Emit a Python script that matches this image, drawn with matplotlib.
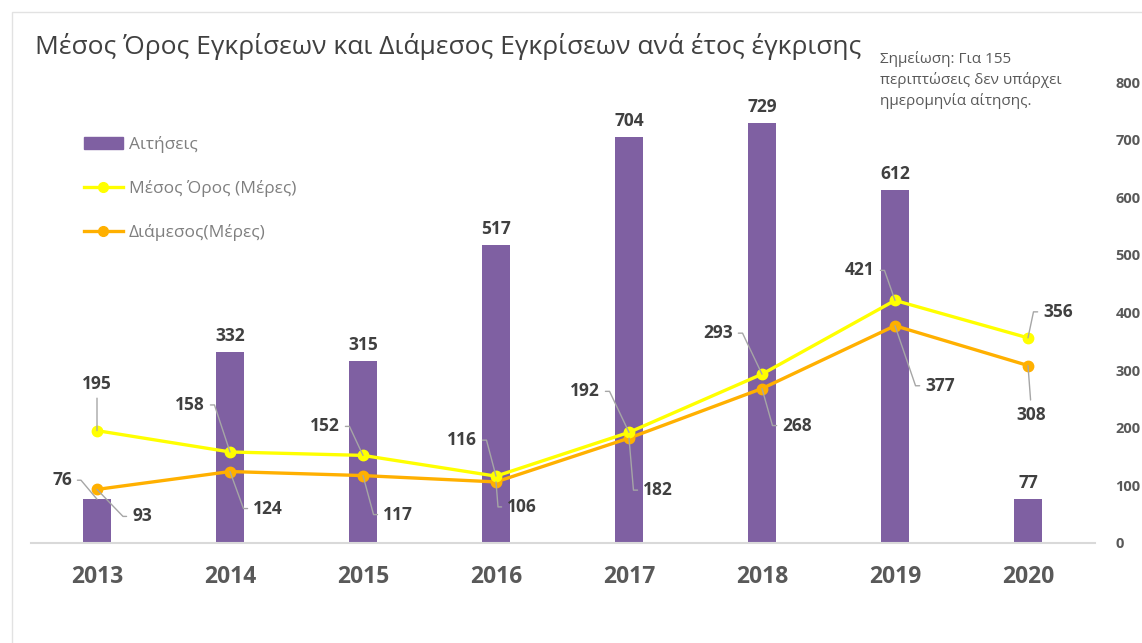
import math
import matplotlib
matplotlib.use("Agg")
import matplotlib.pyplot as plt
from matplotlib.patches import Rectangle
from matplotlib.lines import Line2D
from matplotlib.patches import Patch

years = ["2013", "2014", "2015", "2016", "2017", "2018", "2019", "2020"]
applications = [76, 332, 315, 517, 704, 729, 612, 77]
mean_days = [195, 158, 152, 116, 192, 293, 421, 356]
median_days = [93, 124, 117, 106, 182, 268, 377, 308]
y_ticks = [0, 100, 200, 300, 400, 500, 600, 700, 800]

title = "Μέσος Όρος Εγκρίσεων και Διάμεσος Εγκρίσεων ανά έτος έγκρισης"
note = "Σημείωση: Για 155\nπεριπτώσεις δεν υπάρχει\nημερομηνία αίτησης."
leg_labels = ["Αιτήσεις", "Μέσος Όρος (Μέρες)", "Διάμεσος(Μέρες)"]

# label offsets in pixels (dx, dy) from the data point
mean_off = [(0, 47), (-40, 47), (-38, 29), (-34, 36), (-44, 41), (-44, 41), (-35, 30), (30, 26)]
median_off = [(45, -27), (38, -37), (35, -39), (26, -25), (29, -52), (35, -37), (45, -60), (3, -49)]
bar_off = [(-35, 19)] + [(0, 16)] * 7

PURPLE = "#7F60A2"
YELLOW = "#FFFF00"
ORANGE = "#FFB000"
TXT = "#404040"
font = "Open Sans"

fig = plt.figure(figsize=(11.42, 6.43), dpi=100)
fig.patch.set_facecolor("white")
ax = fig.add_axes([30.5 / 1142, 1 - 543 / 643, (1094.5 - 30.5) / 1142, (543 - 82) / 643])

# frame
fig.add_artist(Rectangle((12 / 1142, -0.05), 1.2, 1 - 12 / 643 + 0.05, transform=fig.transFigure,
                         fill=False, edgecolor="#e2e2e2", lw=1.0))

x = list(range(len(years)))
ax.bar(x, applications, width=0.21, color=PURPLE, zorder=2)
ax.plot(x, mean_days, color=YELLOW, lw=2.4, marker="o", ms=7.5, zorder=4)
ax.plot(x, median_days, color=ORANGE, lw=2.4, marker="o", ms=7.5, zorder=3)

ax.set_xlim(-0.5, len(years) - 0.5)
ax.set_ylim(0, 800)
ax.set_xticks(x)
ax.set_xticklabels(years, fontsize=16.5, fontweight="bold", color="#595959", family=font)
ax.tick_params(axis="x", length=0, pad=16)
ax.yaxis.tick_right()
ax.set_yticks(y_ticks)
ax.set_yticklabels([str(v) for v in y_ticks], fontsize=10.5, fontweight="bold", color="#595959", family=font)
ax.tick_params(axis="y", length=0, pad=15)
for s in ["top", "right", "left"]:
    ax.spines[s].set_visible(False)
ax.spines["bottom"].set_color("#d9d9d9")
ax.spines["bottom"].set_linewidth(1.5)
ax.set_facecolor("none")


def label(xi, yi, text, off, zorder=6):
    dx, dy = off
    if abs(dx) < 5:
        rel = (0.5, 0.0) if dy > 0 else (0.5, 1.0)
        cs = "arc3"
    else:
        rel = (1.0, 0.5) if dx < 0 else (0.0, 0.5)
        sgn = 1 if dx > 0 else -1
        halfw = 5.5 * len(text)
        cdx = dx - sgn * (halfw + 8)
        if abs(cdx) < 2:
            cdx = sgn * 2
        ang = math.degrees(math.atan2(dy, cdx))
        cs = f"angle,angleA=0,angleB={ang:.1f},rad=0"
    ax.annotate(text, (xi, yi), xytext=(dx, dy), textcoords="offset pixels",
                ha="center", va="center", fontsize=12.5, fontweight="bold", color=TXT, family=font,
                zorder=zorder,
                arrowprops=dict(arrowstyle="-", color="#a6a6a6", lw=1.0, relpos=rel,
                                shrinkA=2, shrinkB=0, connectionstyle=cs))


for i in x:
    dx, dy = bar_off[i]
    if dx == 0:
        ax.annotate(str(applications[i]), (i, applications[i]), xytext=(dx, dy), textcoords="offset pixels",
                    ha="center", va="center", fontsize=12.5, fontweight="bold", color=TXT, family=font)
    else:
        label(i, applications[i], str(applications[i]), bar_off[i])
    label(i, mean_days[i], str(mean_days[i]), mean_off[i])
    label(i, median_days[i], str(median_days[i]), median_off[i])

fig.text(35 / 1142, 1 - 47 / 643, title, fontsize=19, color=TXT, family=font, va="center", ha="left")
fig.text(880 / 1142, 1 - 80 / 643, note, fontsize=11, color="#595959", family=font, va="center", ha="left",
         linespacing=1.4)

handles = [Patch(facecolor=PURPLE, edgecolor=PURPLE),
           Line2D([0], [0], color=YELLOW, lw=2.4, marker="o", ms=7),
           Line2D([0], [0], color=ORANGE, lw=2.4, marker="o", ms=7)]
leg = ax.legend(handles, leg_labels, loc="upper left", bbox_to_anchor=(53 / 1064, 1 - (136 - 82) / 461),
                frameon=False, handlelength=2.3, handletextpad=0.3, labelspacing=1.55,
                borderaxespad=0, borderpad=0,
                prop={"family": font, "size": 12.5})
for t in leg.get_texts():
    t.set_color("#7f7f7f")

fig.savefig("out.png", dpi=100)
